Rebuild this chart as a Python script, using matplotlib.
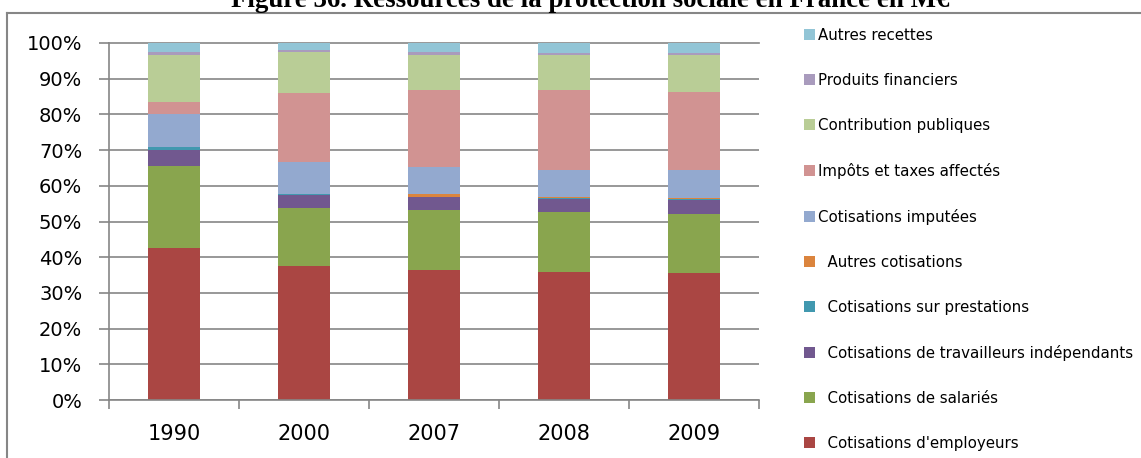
import numpy as np
import matplotlib.pyplot as plt
from matplotlib.patches import Patch
from matplotlib.lines import Line2D
from matplotlib.ticker import PercentFormatter

# shares of each resource (percent)
years = ["1990", "2000", "2007", "2008", "2009"]
employeurs = [42.5, 37.5, 36.3, 35.9, 35.6]
salaries = [23.0, 16.4, 16.9, 16.7, 16.6]
independants = [4.6, 3.6, 3.6, 3.7, 3.8]
prestations = [0.7, 0.1, 0.2, 0.2, 0.3]
autres_cotisations = [0.1, 0.1, 0.6, 0.4, 0.4]
imputees = [9.2, 9.0, 7.6, 7.6, 7.8]
impots = [3.5, 19.4, 21.5, 22.4, 21.9]
contributions = [12.9, 11.5, 10.0, 9.8, 10.3]
produits = [1.1, 0.4, 0.7, 0.4, 0.4]
autres_recettes = [2.4, 2.0, 2.6, 2.9, 2.9]

series = [employeurs, salaries, independants, prestations, autres_cotisations,
          imputees, impots, contributions, produits, autres_recettes]
labels = ["  Cotisations d'employeurs", "  Cotisations de salariés",
          "  Cotisations de travailleurs indépendants", "  Cotisations sur prestations",
          "  Autres cotisations", "Cotisations imputées", "Impôts et taxes affectés",
          "Contribution publiques", "Produits financiers", "Autres recettes"]
colors = ["#AA4643", "#89A54E", "#71588F", "#4198AF", "#DB843D",
          "#93A9CF", "#D19392", "#B9CD96", "#A99BBD", "#92C5D6"]

W, H = 1141, 458
grey = "#868686"

fig = plt.figure(figsize=(W / 100, H / 100), dpi=100)
ax = fig.add_axes([109 / W, 1 - 400 / H, 650 / W, 357 / H])

data = np.array(series, dtype=float)
data = data / data.sum(axis=0)
x = np.arange(len(years))
bottom = np.zeros(len(years))
for vals, col in zip(data, colors):
    ax.bar(x, vals, 0.4, bottom=bottom, color=col, zorder=2)
    bottom += vals

ax.set_xlim(-0.5, len(years) - 0.5)
ax.set_ylim(0, 1.0)
ax.set_yticks(np.linspace(0, 1, 11))
ax.yaxis.set_major_formatter(PercentFormatter(1.0, decimals=0))
ax.grid(axis="y", color=grey, linewidth=1.2, zorder=0)
ax.set_axisbelow(True)
ax.get_ygridlines()[-1].set_clip_on(False)

for side in ["top", "right"]:
    ax.spines[side].set_visible(False)
for side in ["left", "bottom"]:
    ax.spines[side].set_color(grey)
    ax.spines[side].set_linewidth(1.2)

ax.tick_params(axis="y", direction="out", length=7.2, width=1.2, color=grey,
               pad=12, labelsize=14)
ax.set_xticks(x)
ax.set_xticklabels(years)
ax.set_xticks(np.arange(len(years) + 1) - 0.5, minor=True)
ax.tick_params(axis="x", which="major", length=0, pad=17, labelsize=15)
ax.tick_params(axis="x", which="minor", direction="out", length=6.5, width=1.2, color=grey)

handles = [Patch(facecolor=c, edgecolor="none") for c in colors]
fig.legend(handles[::-1], labels[::-1], loc="upper left",
           bbox_to_anchor=(804 / W, 1 - 28 / H), frameon=False,
           fontsize=10.8, handlelength=0.73, handleheight=0.73,
           handletextpad=0.2, labelspacing=2.0, borderpad=0, borderaxespad=0)

# chart frame (top and left edges visible)
fig.add_artist(Line2D([7 / W, 1], [1 - 12.7 / H, 1 - 12.7 / H], color=grey, linewidth=1.5))
fig.add_artist(Line2D([7 / W, 7 / W], [0, 1 - 12.7 / H], color=grey, linewidth=1.5))

# title sits partly above the picture, as in the source page
fig.text(590 / W, 1 - 7 / H, "Figure 36. Ressources de la protection sociale en France en M€",
         ha="center", va="baseline", fontsize=19.4, fontweight="bold",
         family="Liberation Serif")

fig.savefig("out.png", dpi=100)
